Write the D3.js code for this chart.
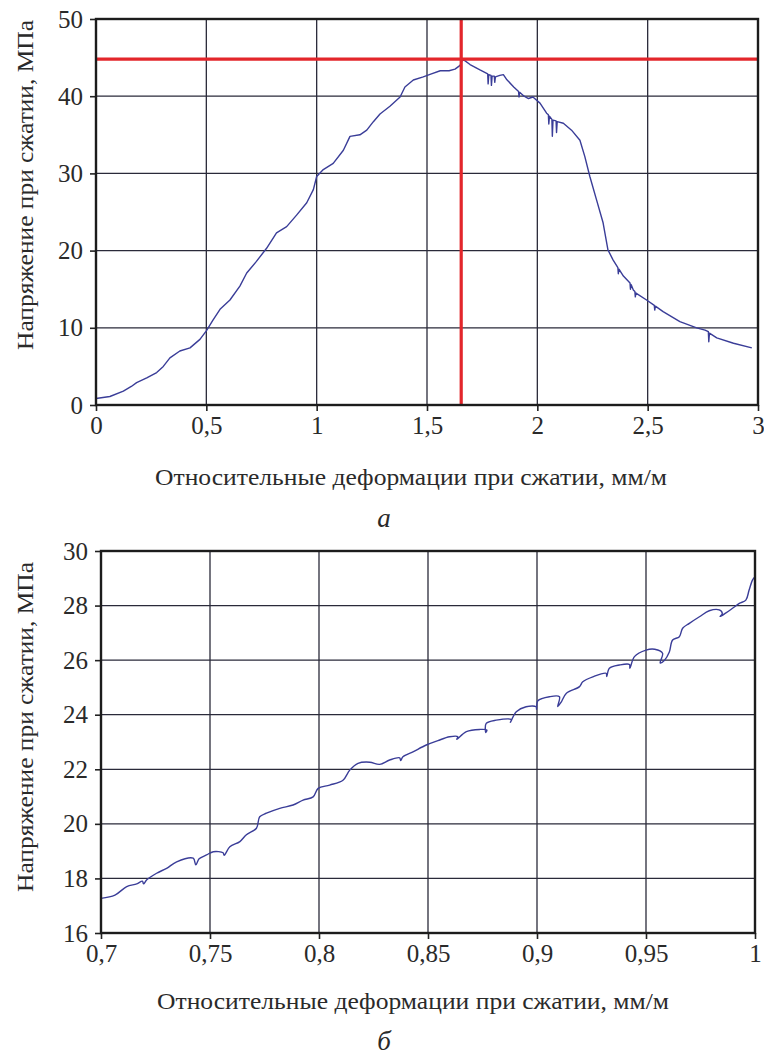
<!DOCTYPE html>
<html>
<head>
<meta charset="utf-8">
<script src="https://cdn.jsdelivr.net/npm/d3@7/dist/d3.min.js"></script>
<style>
  body { margin: 0; background: #fff; }
  text { font-family: 'Liberation Serif', 'Times New Roman', serif; fill: #2a2a2a; }
</style>
</head>
<body>
<svg id="fig" width="764" height="1055"></svg>
<script>
// --- panel a: full stress-strain curve ---
const strainA = [0, 0.063, 0.124, 0.16, 0.184, 0.23, 0.275, 0.305, 0.335, 0.38, 0.426, 0.471, 0.5, 0.53,
  0.562, 0.607, 0.652, 0.683, 0.727, 0.773, 0.818, 0.864, 0.909, 0.955, 0.985, 1.0, 1.03, 1.075, 1.121,
  1.151, 1.196, 1.227, 1.257, 1.287, 1.332, 1.378, 1.40, 1.438, 1.483, 1.52, 1.56, 1.6, 1.627, 1.65, 1.662,
  1.695, 1.74, 1.775, 1.777, 1.78, 1.79, 1.792, 1.795, 1.805, 1.807, 1.81, 1.83, 1.846, 1.86, 1.893, 1.915,
  1.917, 1.92, 1.94, 1.96, 1.98, 2.012, 2.042, 2.05, 2.052, 2.055, 2.066, 2.068, 2.071, 2.085, 2.087, 2.09,
  2.118, 2.155, 2.193, 2.215, 2.238, 2.268, 2.298, 2.32, 2.343, 2.365, 2.367, 2.37, 2.39, 2.42, 2.422,
  2.425, 2.435, 2.442, 2.444, 2.447, 2.495, 2.53, 2.532, 2.535, 2.57, 2.646, 2.722, 2.76, 2.775, 2.777,
  2.78, 2.813, 2.889, 2.972];
const stressA = [0.85, 1.1, 1.8, 2.4, 2.9, 3.5, 4.2, 5.0, 6.1, 7.0, 7.4, 8.5, 9.6, 11.0,
  12.4, 13.6, 15.4, 17.1, 18.6, 20.3, 22.3, 23.1, 24.6, 26.2, 27.9, 29.6, 30.5, 31.3, 33.0,
  34.8, 35.0, 35.6, 36.7, 37.7, 38.7, 39.9, 41.2, 42.1, 42.5, 42.9, 43.3, 43.3, 43.5, 44.0, 44.8,
  44.1, 43.4, 42.9, 41.6, 42.8, 42.7, 41.4, 42.6, 42.6, 41.8, 42.5, 42.7, 42.8, 42.2, 41.2, 40.6,
  39.9, 40.5, 40.0, 39.7, 39.9, 39.1, 37.8, 37.6, 36.4, 37.4, 37.0, 34.8, 36.9, 36.8, 35.3, 36.7,
  36.5, 35.6, 34.3, 32.2, 29.6, 26.6, 23.6, 20.1, 18.8, 17.8, 17.0, 17.6, 16.7, 15.8, 15.0,
  15.6, 14.9, 14.7, 14.0, 14.5, 13.6, 12.9, 12.3, 12.8, 12.1, 10.8, 10.0, 9.7, 9.5, 8.2,
  9.3, 8.7, 8.0, 7.4];
const xTicksA = [0, 0.5, 1, 1.5, 2, 2.5, 3];
const yTicksA = [0, 10, 20, 30, 40, 50];
const peakStrain = 1.655;
const peakStress = 44.8;

// --- panel b: zoomed part 0.7..1 ---
const strainB = [0.7, 0.7064, 0.7118, 0.7164, 0.719, 0.7195, 0.721, 0.7255, 0.7301, 0.7347, 0.7423, 0.7435,
  0.745, 0.7484, 0.7515, 0.756, 0.7565, 0.7591, 0.7637, 0.7667, 0.7713, 0.7728, 0.7759, 0.782, 0.7881,
  0.7927, 0.7973, 0.7996, 0.8049, 0.811, 0.8141, 0.8179, 0.8233, 0.8278, 0.8324, 0.837, 0.8375, 0.8385,
  0.8431, 0.8492, 0.8545, 0.8599, 0.8637, 0.8632, 0.8676, 0.8737, 0.877, 0.8765, 0.8767, 0.8813, 0.8882,
  0.8878, 0.8905, 0.895, 0.8996, 0.8998, 0.9004, 0.9057, 0.9103, 0.9095, 0.911, 0.9134, 0.9195, 0.921,
  0.9256, 0.9317, 0.932, 0.9332, 0.9378, 0.9424, 0.9426, 0.9447, 0.95, 0.954, 0.9576, 0.9565, 0.9585,
  0.9607, 0.9622, 0.9653, 0.9668, 0.9699, 0.9745, 0.979, 0.9836, 0.985, 0.984, 0.9865, 0.9897, 0.9928,
  0.9958, 0.9973, 0.9989, 1.0];
const stressB = [17.27, 17.39, 17.7, 17.8, 17.9, 17.8, 17.95, 18.19, 18.37, 18.61, 18.74, 18.5,
  18.72, 18.86, 18.98, 18.94, 18.85, 19.16, 19.35, 19.6, 19.84, 20.26, 20.39, 20.57, 20.69,
  20.87, 20.99, 21.3, 21.42, 21.6, 21.97, 22.22, 22.26, 22.18, 22.34, 22.42, 22.32, 22.46,
  22.64, 22.89, 23.05, 23.19, 23.19, 23.1, 23.38, 23.46, 23.44, 23.35, 23.68, 23.8, 23.82,
  23.72, 24.11, 24.29, 24.29, 24.2, 24.51, 24.66, 24.66, 24.3, 24.45, 24.78, 25.03, 25.21,
  25.39, 25.52, 25.4, 25.7, 25.82, 25.84, 25.7, 26.13, 26.37, 26.4, 26.25, 25.9, 26.0,
  26.3, 26.74, 26.86, 27.17, 27.35, 27.59, 27.81, 27.84, 27.7, 27.6, 27.72, 27.9, 28.08,
  28.2, 28.57, 28.94, 29.06];
const xTicksB = [0.7, 0.75, 0.8, 0.85, 0.9, 0.95, 1];
const yTicksB = [16, 18, 20, 22, 24, 26, 28, 30];

const yTitle = 'Напряжение при сжатии, МПа';
const xTitle = 'Относительные деформации при сжатии, мм/м';

const svg = d3.select('#fig');
const fmt = d => String(d).replace('.', ',');

function drawPanel(p) {
  const x = d3.scaleLinear().domain(p.xDomain).range([p.left, p.right]);
  const y = d3.scaleLinear().domain(p.yDomain).range([p.bottom, p.top]);
  const g = svg.append('g');

  // grid
  g.selectAll('.vg').data(p.xTicks.slice(1, -1)).join('line')
    .attr('x1', d => x(d)).attr('x2', d => x(d))
    .attr('y1', p.top).attr('y2', p.bottom)
    .attr('stroke', '#2a2a3a').attr('stroke-width', 1.3);
  g.selectAll('.hg').data(p.yTicks.slice(1, -1)).join('line')
    .attr('x1', p.left).attr('x2', p.right)
    .attr('y1', d => y(d)).attr('y2', d => y(d))
    .attr('stroke', '#2a2a3a').attr('stroke-width', 1.3);

  // axes (ticks outside, labels)
  const ax = g.append('g').attr('transform', `translate(0,${p.bottom})`)
    .call(d3.axisBottom(x).tickValues(p.xTicks).tickFormat(fmt).tickSize(6).tickPadding(5));
  const ay = g.append('g').attr('transform', `translate(${p.left},0)`)
    .call(d3.axisLeft(y).tickValues(p.yTicks).tickSize(6).tickPadding(7));
  [ax, ay].forEach(a => {
    a.select('.domain').remove();
    a.selectAll('line').attr('stroke', '#222').attr('stroke-width', 1.6);
    a.selectAll('text').style('font-family', "'Liberation Serif', serif")
      .style('font-size', '25px').attr('fill', '#2a2a2a');
  });

  // curve
  const line = d3.line().x(d => x(d[0])).y(d => y(d[1])).curve(p.curve);
  g.append('path')
    .datum(d3.zip(p.strain, p.stress))
    .attr('d', line)
    .attr('fill', 'none').attr('stroke', '#3a3d98').attr('stroke-width', 1.4)
    .attr('stroke-linejoin', 'round');

  // peak marker lines (panel a only)
  if (p.peak) {
    g.append('line').attr('x1', p.left).attr('x2', p.right)
      .attr('y1', y(p.peak[1])).attr('y2', y(p.peak[1]))
      .attr('stroke', '#e3262b').attr('stroke-width', 3.2);
    g.append('line').attr('x1', x(p.peak[0])).attr('x2', x(p.peak[0]))
      .attr('y1', p.top).attr('y2', p.bottom)
      .attr('stroke', '#e3262b').attr('stroke-width', 3.2);
  }

  // frame
  g.append('rect').attr('x', p.left).attr('y', p.top)
    .attr('width', p.right - p.left).attr('height', p.bottom - p.top)
    .attr('fill', 'none').attr('stroke', '#1c1c1c').attr('stroke-width', 2.4);

  // titles
  g.append('text').attr('x', p.xTitleMid).attr('y', p.xTitleY)
    .attr('text-anchor', 'middle').style('font-size', '24px')
    .attr('textLength', 512).attr('lengthAdjust', 'spacingAndGlyphs').text(xTitle);
  g.append('text')
    .attr('transform', `translate(${p.yTitleX},${p.yTitleMid}) rotate(-90)`)
    .attr('text-anchor', 'middle').style('font-size', '24px')
    .attr('textLength', 330).attr('lengthAdjust', 'spacingAndGlyphs').text(yTitle);
  g.append('text').attr('x', 384).attr('y', p.letterY)
    .attr('text-anchor', 'middle').style('font-size', '27px').style('font-style', 'italic')
    .text(p.letter);
}

drawPanel({
  left: 96, right: 758, top: 19, bottom: 405,
  xDomain: [0, 3], yDomain: [0, 50], xTicks: xTicksA, yTicks: yTicksA,
  strain: strainA, stress: stressA, peak: [peakStrain, peakStress], curve: d3.curveLinear,
  xTitleMid: 411, xTitleY: 485, yTitleX: 33, yTitleMid: 185, letterY: 527, letter: 'а'
});

drawPanel({
  left: 101, right: 755, top: 551, bottom: 933,
  xDomain: [0.7, 1], yDomain: [16, 30], xTicks: xTicksB, yTicks: yTicksB,
  strain: strainB, stress: stressB, peak: null, curve: d3.curveCatmullRom.alpha(0.5),
  xTitleMid: 413, xTitleY: 1009, yTitleX: 33, yTitleMid: 727, letterY: 1050, letter: 'б'
});
</script>
</body>
</html>
